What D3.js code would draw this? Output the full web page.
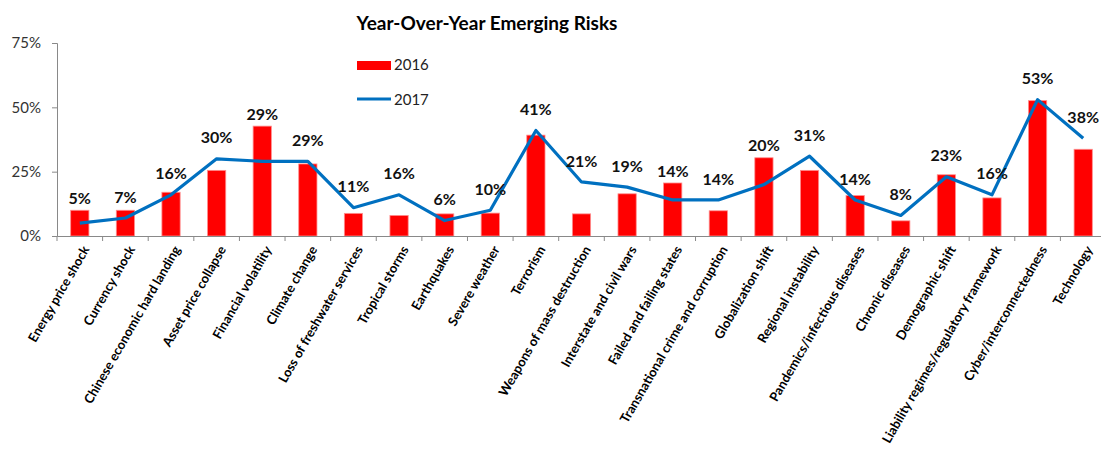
<!DOCTYPE html>
<html>
<head>
<meta charset="utf-8">
<script src="https://cdn.jsdelivr.net/npm/d3@7"></script>
<style>
  html, body { margin: 0; padding: 0; background: #fff; }
  svg { display: block; font-family: Lato, "Open Sans", sans-serif; }
</style>
</head>
<body>
<svg id="chart" width="1101" height="450"></svg>
<script>
const categories = [
  "Energy price shock", "Currency shock", "Chinese economic hard landing",
  "Asset price collapse", "Financial volatility", "Climate change",
  "Loss of freshwater services", "Tropical storms", "Earthquakes",
  "Severe weather", "Terrorism", "Weapons of mass destruction",
  "Interstate and civil wars", "Failed and failing states",
  "Transnational crime and corruption", "Globalization shift",
  "Regional instability", "Pandemics/infectious diseases", "Chronic diseases",
  "Demographic shift", "Liability regimes/regulatory framework",
  "Cyber/interconnectedness", "Technology"
];
const values2016 = [10, 10, 17, 25.5, 42.7, 28, 8.8, 8, 8.6, 8.9, 39.2, 8.6, 16.4, 20.6, 9.8, 30.4, 25.5, 15.7, 5.9, 23.8, 14.8, 52.6, 33.7];
const values2017 = [5, 7, 16, 30, 29, 29, 11, 16, 6, 10, 41, 21, 19, 14, 14, 20, 31, 14, 8, 23, 16, 53, 38];
const yTicks = [0, 25, 50, 75];
const seriesNames = ["2016", "2017"];
const titleText = "Year-Over-Year Emerging Risks";

const svg = d3.select("#chart");
const pLeft = 57, pRight = 1106, pTop = 43, pBottom = 236;

const x = d3.scaleBand().domain(categories).range([pLeft, pRight]).paddingInner(0.6).paddingOuter(0.3);
const y = d3.scaleLinear().domain([0, 75]).range([pBottom, pTop]);
const cx = d => x(d) + x.bandwidth() / 2;

// Title
svg.append("text")
  .attr("x", 487).attr("y", 30)
  .attr("text-anchor", "middle")
  .attr("font-size", 19).attr("font-weight", 700).attr("fill", "#000")
  .text(titleText);

// Y axis
const yAxis = svg.append("g")
  .attr("transform", `translate(${pLeft},0)`)
  .call(d3.axisLeft(y).tickValues(yTicks).tickSize(5).tickPadding(11).tickFormat(d => d + "%"));
yAxis.select(".domain").attr("stroke", "#898989");
yAxis.selectAll(".tick line").attr("stroke", "#898989");
yAxis.selectAll(".tick text").attr("font-size", 15).attr("fill", "#333").attr("font-family", "Lato, sans-serif");

// Bars (2016)
svg.append("g").selectAll("rect")
  .data(categories)
  .join("rect")
  .attr("x", d => x(d))
  .attr("width", x.bandwidth())
  .attr("y", (d, i) => y(values2016[i]))
  .attr("height", (d, i) => y(0) - y(values2016[i]))
  .attr("fill", "#FF0000")
  .attr("stroke", "#FF8F8F").attr("stroke-width", 0.8);

// X axis
const xAxis = svg.append("g")
  .attr("transform", `translate(0,${pBottom})`)
  .call(d3.axisBottom(x).tickSize(0).tickFormat(""));
xAxis.select(".domain").attr("stroke", "#898989");
// boundary ticks
const step = x.step();
const bounds = d3.range(categories.length + 1).map(i => pLeft + i * step);
svg.append("g").selectAll("line")
  .data(bounds)
  .join("line")
  .attr("x1", d => d).attr("x2", d => d)
  .attr("y1", pBottom).attr("y2", pBottom + 5)
  .attr("stroke", "#898989");

// Category labels
svg.append("g").selectAll("text")
  .data(categories)
  .join("text")
  .attr("transform", d => `translate(${cx(d) + 6},${pBottom + 11}) rotate(-60)`)
  .attr("text-anchor", "end")
  .attr("dy", "0.35em")
  .attr("font-size", 13).attr("font-weight", 700).attr("fill", "#000")
  .text(d => d);

// Line (2017)
const line = d3.line()
  .x((d, i) => cx(categories[i]))
  .y(d => y(d));
svg.append("path")
  .datum(values2017)
  .attr("d", line)
  .attr("fill", "none")
  .attr("stroke", "#0070C0")
  .attr("stroke-width", 3.2)
  .attr("stroke-linejoin", "round");

// Data labels
svg.append("g").selectAll("text")
  .data(categories)
  .join("text")
  .attr("x", d => cx(d))
  .attr("y", (d, i) => Math.min(y(values2017[i]) - 21, y(values2016[i]) - 12))
  .attr("dy", "0.35em")
  .attr("text-anchor", "middle")
  .attr("font-size", 16).attr("font-weight", 700).attr("fill", "#111")
  .text((d, i) => values2017[i] + "%");

// Legend
const lg = svg.append("g");
lg.append("rect").attr("x", 357).attr("y", 61).attr("width", 34).attr("height", 9).attr("fill", "#FF0000");
lg.append("text").attr("x", 394).attr("y", 70).attr("font-size", 15).attr("fill", "#222").text(seriesNames[0]);
lg.append("line").attr("x1", 357).attr("x2", 391).attr("y1", 99).attr("y2", 99)
  .attr("stroke", "#0070C0").attr("stroke-width", 3);
lg.append("text").attr("x", 394).attr("y", 105).attr("font-size", 15).attr("fill", "#222").text(seriesNames[1]);
</script>
</body>
</html>
